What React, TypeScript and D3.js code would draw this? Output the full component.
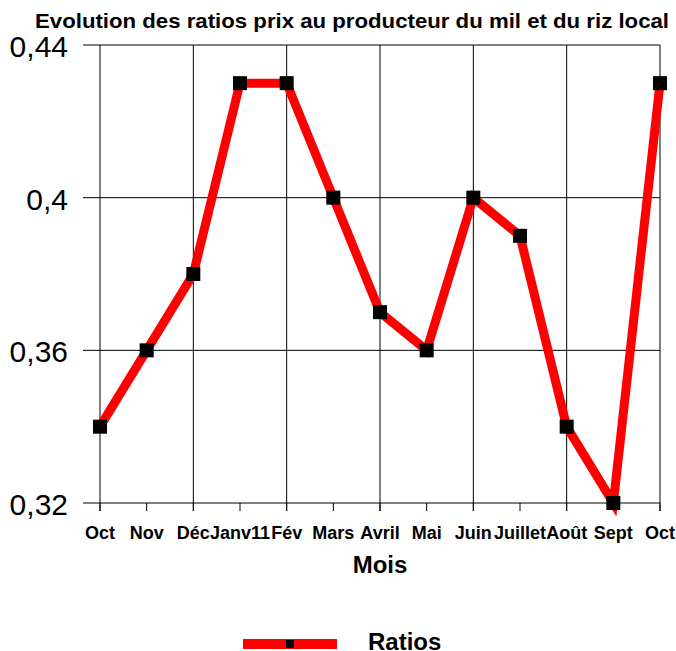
import * as d3 from "d3";
import { useEffect, useRef } from "react";

const months = ["Oct", "Nov", "Déc", "Janv11", "Fév", "Mars", "Avril", "Mai", "Juin", "Juillet", "Août", "Sept", "Oct"];
const ratios = [0.34, 0.36, 0.38, 0.43, 0.43, 0.4, 0.37, 0.36, 0.4, 0.39, 0.34, 0.32, 0.43];
const yTicks = [0.32, 0.36, 0.4, 0.44];

const W = 676;
const H = 651;
const margin = { top: 45, right: 16, bottom: 148, left: 100 };
const font = "Arial, 'Liberation Sans', sans-serif";

const App = () => {
  const svgRef = useRef(null);

  useEffect(() => {
    const svg = d3.select(svgRef.current);
    svg.selectAll("*").remove();

    const x = d3
      .scalePoint()
      .domain(months.map((m, i) => String(i)))
      .range([margin.left, W - margin.right]);
    const y = d3
      .scaleLinear()
      .domain([0.32, 0.44])
      .range([H - margin.bottom, margin.top]);

    const fmt = (v) => String(+v.toFixed(2)).replace(".", ",");

    // horizontal grid + y tick marks
    svg
      .append("g")
      .selectAll("line")
      .data(yTicks)
      .join("line")
      .attr("x1", margin.left - 17)
      .attr("x2", W - margin.right)
      .attr("y1", (d) => y(d))
      .attr("y2", (d) => y(d))
      .attr("stroke", "#000")
      .attr("stroke-width", 1);

    // vertical grid every other month
    svg
      .append("g")
      .selectAll("line")
      .data(months.map((m, i) => i).filter((i) => i % 2 === 0))
      .join("line")
      .attr("x1", (i) => x(String(i)))
      .attr("x2", (i) => x(String(i)))
      .attr("y1", margin.top)
      .attr("y2", H - margin.bottom + 8)
      .attr("stroke", "#000")
      .attr("stroke-width", 1);

    // small ticks below x axis
    svg
      .append("g")
      .selectAll("line")
      .data(months.map((m, i) => i))
      .join("line")
      .attr("x1", (i) => x(String(i)))
      .attr("x2", (i) => x(String(i)))
      .attr("y1", H - margin.bottom)
      .attr("y2", H - margin.bottom + 8)
      .attr("stroke", "#000")
      .attr("stroke-width", 1);

    // y labels
    svg
      .append("g")
      .selectAll("text")
      .data(yTicks)
      .join("text")
      .attr("x", 68)
      .attr("y", (d) => y(d) + 12)
      .attr("text-anchor", "end")
      .style("font-family", font)
      .style("font-size", "30px")
      .text((d) => fmt(d));

    // x labels
    svg
      .append("g")
      .selectAll("text")
      .data(months)
      .join("text")
      .attr("x", (m, i) => x(String(i)))
      .attr("y", 539)
      .attr("text-anchor", "middle")
      .style("font-family", font)
      .style("font-size", "18px")
      .style("font-weight", "bold")
      .text((m) => m);

    // line
    const line = d3
      .line()
      .x((d, i) => x(String(i)))
      .y((d) => y(d));
    svg
      .append("path")
      .datum(ratios)
      .attr("d", line)
      .attr("fill", "none")
      .attr("stroke", "#ff0000")
      .attr("stroke-width", 9)
      .attr("stroke-linejoin", "miter");

    // markers
    svg
      .append("g")
      .selectAll("rect")
      .data(ratios)
      .join("rect")
      .attr("x", (d, i) => x(String(i)) - 7)
      .attr("y", (d) => y(d) - 7)
      .attr("width", 14)
      .attr("height", 14)
      .attr("fill", "#000");

    // title
    svg
      .append("text")
      .attr("x", 352)
      .attr("y", 28)
      .attr("text-anchor", "middle")
      .attr("textLength", 634)
      .attr("lengthAdjust", "spacingAndGlyphs")
      .style("font-family", font)
      .style("font-size", "21px")
      .style("font-weight", "bold")
      .text("Evolution des ratios prix au producteur du mil et du riz local");

    // axis title
    svg
      .append("text")
      .attr("x", 380)
      .attr("y", 573)
      .attr("text-anchor", "middle")
      .style("font-family", font)
      .style("font-size", "24px")
      .style("font-weight", "bold")
      .text("Mois");

    // legend
    svg
      .append("rect")
      .attr("x", 243)
      .attr("y", 639)
      .attr("width", 94)
      .attr("height", 10)
      .attr("fill", "#ff0000");
    svg
      .append("rect")
      .attr("x", 286)
      .attr("y", 640)
      .attr("width", 8)
      .attr("height", 8)
      .attr("fill", "#000");
    svg
      .append("text")
      .attr("x", 368)
      .attr("y", 650)
      .style("font-family", font)
      .style("font-size", "24px")
      .style("font-weight", "bold")
      .text("Ratios");
  }, []);

  return (
    <svg
      ref={svgRef}
      width={W}
      height={H}
      style={{ position: "absolute", left: 0, top: 0, background: "#fff" }}
    />
  );
};

export default App;
